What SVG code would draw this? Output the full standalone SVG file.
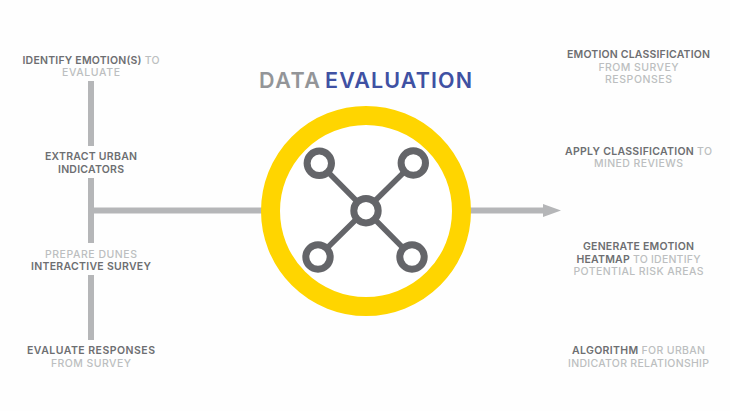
<svg xmlns="http://www.w3.org/2000/svg" width="730" height="411" viewBox="0 0 730 411">
<defs><style>
.t{font-family:"Inter","Liberation Sans",sans-serif;font-size:10.5px;font-weight:600;text-anchor:middle;fill:#6d6e71}
.l{fill:#bcbec0;font-weight:500}
.c{stroke:#b5b6b8;fill:none;stroke-width:6}
.e{stroke:#646569;stroke-width:5.500;fill:none}
.n{stroke:#646569;stroke-width:7;fill:#fff}
.h{font-family:"Inter","Liberation Sans",sans-serif;font-size:21.500px;font-weight:600}
</style></defs>
<rect width="730" height="411" fill="#fefefe"/>
<g id="connectors">
<path class="c" d="M91 81V146M91 178V243M91 275V340M94 210.500H262M470 210.500H545"/>
<polygon points="543,204 561,210.500 543,217" fill="#b5b6b8"/>
</g>
<g id="title"><text class="h" x="259" y="88" fill="#939598" textLength="61">DATA</text><text class="h" x="325" y="88" fill="#3f51a3" textLength="147">EVALUATION</text></g>
<g id="hub">
<circle cx="366" cy="211" r="95.500" fill="#fff" stroke="#ffd500" stroke-width="19"/>
<path class="e" d="M319.300 163.300L412 257M413.300 163L318 257"/>
<circle class="n" cx="319.300" cy="163.300" r="12.200"/>
<circle class="n" cx="413.300" cy="163" r="12.200"/>
<circle class="n" cx="318" cy="257" r="12.200"/>
<circle class="n" cx="412" cy="257" r="12.200"/>
<circle class="n" cx="366" cy="210.700" r="12.200"/>
</g>
<g id="n1"><text class="t" x="91" y="64" textLength="137">IDENTIFY EMOTION(S)<tspan class="l"> TO</tspan></text><text class="t l" x="91" y="76" textLength="58">EVALUATE</text></g>
<g id="n2"><text class="t" x="91" y="160" textLength="92">EXTRACT URBAN</text><text class="t" x="91" y="172.500" textLength="66">INDICATORS</text></g>
<g id="n3"><text class="t l" x="91" y="257.500" textLength="92">PREPARE DUNES</text><text class="t" x="91" y="270" textLength="120">INTERACTIVE SURVEY</text></g>
<g id="n4"><text class="t" x="91" y="354" textLength="128">EVALUATE RESPONSES</text><text class="t l" x="91" y="366.500" textLength="80">FROM SURVEY</text></g>
<g id="n5"><text class="t" x="638.500" y="58" textLength="143">EMOTION CLASSIFICATION</text><text class="t l" x="638.500" y="70.500" textLength="80">FROM SURVEY</text><text class="t l" x="638.500" y="82.500" textLength="67">RESPONSES</text></g>
<g id="n6"><text class="t" x="638.500" y="154.500" textLength="147">APPLY CLASSIFICATION<tspan class="l"> TO</tspan></text><text class="t l" x="638.500" y="167" textLength="89">MINED REVIEWS</text></g>
<g id="n7"><text class="t" x="638.500" y="250" textLength="111">GENERATE EMOTION</text><text class="t" x="638.500" y="262.500" textLength="124">HEATMAP<tspan class="l"> TO IDENTIFY</tspan></text><text class="t l" x="638.500" y="275" textLength="130">POTENTIAL RISK AREAS</text></g>
<g id="n8"><text class="t" x="638.500" y="354" textLength="133">ALGORITHM<tspan class="l"> FOR URBAN</tspan></text><text class="t l" x="638.500" y="366.500" textLength="141">INDICATOR RELATIONSHIP</text></g>
</svg>
